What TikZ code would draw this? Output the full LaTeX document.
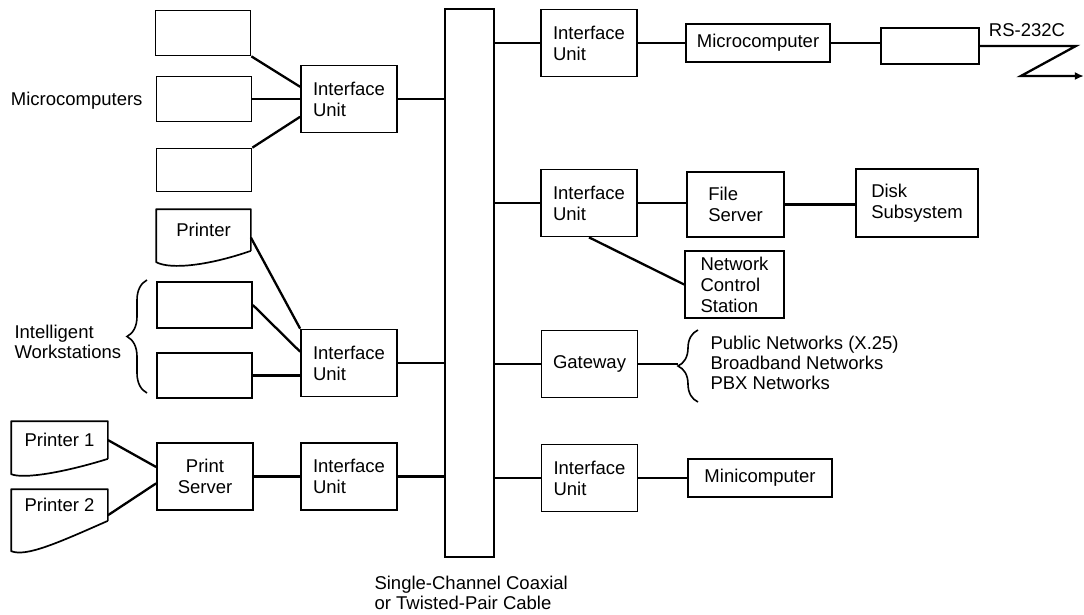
\documentclass[tikz,border=0pt]{standalone}
\usepackage{fontspec}
\setmainfont{Liberation Sans}
\usetikzlibrary{arrows.meta,decorations.pathreplacing}

\begin{document}
\begin{tikzpicture}[x=1pt, y=-1pt,
	box/.style = {draw, line width=1.7pt, inner sep=2pt, align=left, font=\fontsize{18.5}{21}\selectfont},
	iface/.style = {box, minimum width=96pt, minimum height=67pt},
	blank/.style = {box, minimum width=95pt, minimum height=45pt},
	prn/.style = {box, draw=none},
	outline/.style = {line width=1.7pt, line join=round},
	link/.style = {line width=2.3pt},
	curly/.style = {line width=1.6pt, decorate, decoration={brace, amplitude=20pt}},
	label/.style = {align=left, font=\fontsize{18.5}{20}\selectfont}]
	\useasboundingbox (0, 0) rectangle (1084, 614);
	
	\node[box, minimum width=49pt, minimum height=548pt] (bus) at (469.5, 283) {};
	
	\node[blank] (mcA) at (203, 33) {};
	\node[blank] (mcB) at (204, 99) {};
	\node[blank, minimum height=43pt] (mcC) at (204, 170) {};
	\node[iface] (iuA) at (349, 99) {Interface\\Unit};
	\node[label, anchor = east] (mclabel) at (146, 101) {Microcomputers};
	
	\node[prn, minimum width=93pt, minimum height=40pt] (prnA) at (203.5, 230) {Printer};
	\node[blank, minimum height=46pt] (wsA) at (204.5, 305) {};
	\node[blank] (wsB) at (204.5, 375.5) {};
	\node[iface] (iuB) at (349, 363) {Interface\\Unit};
	\node[label, anchor = west] (wslabel) at (11, 342) {Intelligent\\Workstations};
	
	\node[prn, minimum width=95pt, minimum height=36pt] (prnB) at (59.5, 440) {Printer 1};
	\node[prn, minimum width=95pt, minimum height=30pt] (prnC) at (59.5, 505) {Printer 2};
	\node[iface, align=center] (psrv) at (205, 476.5) {Print\\Server};
	\node[iface] (iuC) at (349, 476.5) {Interface\\Unit};
	
	\node[iface] (iuD) at (589, 43) {Interface\\Unit};
	\node[box, minimum width=144pt, minimum height=38pt] (micro) at (758, 43) {Microcomputer};
	\node[box, minimum width=98pt, minimum height=36pt] (modem) at (930, 46) {};
	\node[label] (rslabel) at (1027, 30) {RS-232C};
	
	\node[iface] (iuE) at (589, 203) {Interface\\Unit};
	\node[box, minimum width=97pt, minimum height=65pt] (fsrv) at (735.5, 204.5) {File\\Server};
	\node[box, minimum width=122pt, minimum height=68pt] (disk) at (917, 203) {Disk\\Subsystem};
	\node[box, minimum width=99pt, minimum height=67pt] (ncs) at (734.5, 284.5) {Network\\Control\\Station};
	
	\node[iface] (gway) at (589.5, 364) {Gateway};
	\coordinate (nettip) at (678, 364);
	\node[label, anchor = west] (netlabel) at (707, 363) {Public Networks (X.25)\\Broadband Networks\\PBX Networks};
	
	\node[iface] (iuF) at (589.5, 478) {Interface\\Unit};
	\node[box, minimum width=144pt, minimum height=38pt] (mini) at (760, 478) {Minicomputer};
	
	\node[label, anchor = west] (buslabel) at (371, 593) {Single-Channel Coaxial\\or Twisted-Pair Cable};
	
	\draw[outline] (prnA.south east) -- (prnA.north east) -- (prnA.north west) -- ++(0, 53) .. controls +(15, 8) and +(-40, 14) .. (prnA.south east);
	\draw[outline] (prnB.south east) -- (prnB.north east) -- (prnB.north west) -- ++(0, 53) .. controls +(12, 5) and +(-45, 14) .. (prnB.south east);
	\draw[outline] (prnC.south east) -- (prnC.north east) -- (prnC.north west) -- ++(0, 62) .. controls +(15, 6) and +(-50, 22) .. (prnC.south east);
	
	\draw[curly] (147, 393) -- (147, 280);
	\draw[curly] (698, 402) -- (698, 330);
	
	\draw[link] (mcA.south east) -- (iuA.166);
	\draw[link] (mcB) -- (iuA);
	\draw[link] (mcC.north east) -- (iuA.200);
	\draw[link] (iuA.east) -- (iuA.east -| bus.west);
	
	\draw[link] (prnA.-9) -- (iuB.north west);
	\draw[link] (wsA.east) -- (iuB.167);
	\draw[link] (wsB.east) -- (wsB.east -| iuB.west);
	\draw[link] (iuB.east) -- (iuB.east -| bus.west);
	
	\draw[link] (prnB.east) -- (psrv.169);
	\draw[link] (prnC.-12) -- (psrv.188);
	\draw[link] (psrv) -- (iuC);
	\draw[link] (iuC.east) -- (iuC.east -| bus.west);
	
	\draw[link] (iuD.west -| bus.east) -- (iuD.west);
	\draw[link] (iuD) -- (micro);
	\draw[link] (micro.east) -- (micro.east -| modem.west);
	\draw[link, -{Latex[length=9pt, width=8pt]}] (modem.east) -- ++(96, 0) -- ++(-55, 30) -- ++(63, 0);
	
	\draw[link] (iuE.west -| bus.east) -- (iuE.west);
	\draw[link] (iuE.east) -- (iuE.east -| fsrv.west);
	\draw[link] (fsrv.east) -- (fsrv.east -| disk.west);
	\draw[link] (iuE.south) -- (ncs.west);
	
	\draw[link] (gway.west -| bus.east) -- (gway.west);
	\draw[link] (gway.east) -- (nettip);
	
	\draw[link] (iuF.west -| bus.east) -- (iuF.west);
	\draw[link] (iuF.east) -- (iuF.east -| mini.west);
\end{tikzpicture}
\end{document}
